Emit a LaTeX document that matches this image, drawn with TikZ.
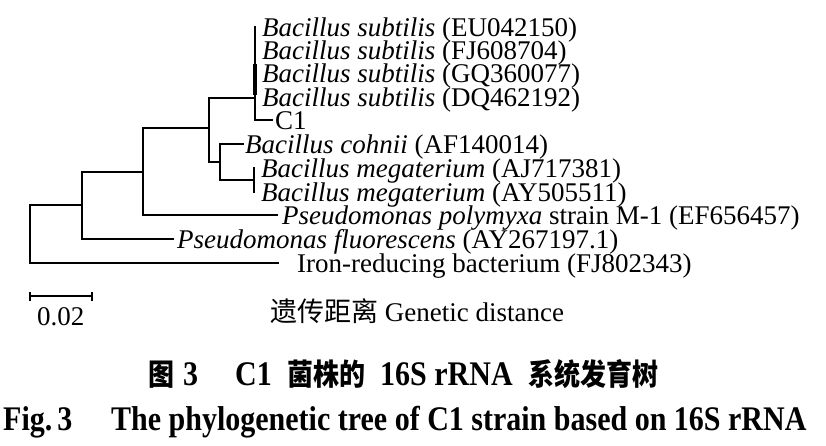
\documentclass[tikz,border=0pt]{standalone}
\usepackage{graphicx}
\usepackage{fontspec}
\setmainfont{Liberation Serif}
\newfontfamily\cjk{Noto Sans CJK SC}
\newcommand{\tallbox}[1]{\scalebox{1}[1.15]{#1}}
\begin{document}
\begin{tikzpicture}[x=1pt,y=-1pt,
  br/.style={line width=2pt, line cap=rect},
  lab/.style={inner sep=0pt, anchor=base west, font=\fontsize{27}{27}\selectfont},
  ttl/.style={inner sep=0pt, anchor=base west, font=\fontsize{30}{30}\selectfont\bfseries},
  ttlc/.style={inner sep=0pt, anchor=base west, font=\fontsize{26}{26}\selectfont\cjk\bfseries}]
\useasboundingbox (0,0) rectangle (826,445);
% internal nodes
\coordinate (nR) at (30,234);
\coordinate (n2) at (82,205);
\coordinate (n3) at (143,172);
\coordinate (n4) at (209,128);
\coordinate (n5) at (220,162);
\coordinate (nS) at (255,98);
\coordinate (nM) at (254,180);
% tips
\coordinate (tEU) at (255,27);
\coordinate (tFJ) at (255,50);
\coordinate (tGQ) at (255,73);
\coordinate (tDQ) at (255,97);
\coordinate (tC1) at (272,120);
\coordinate (tCoh) at (243,144);
\coordinate (tM1) at (254,168);
\coordinate (tM2) at (254,192);
\coordinate (tPoly) at (277,215);
\coordinate (tFl) at (173,239);
\coordinate (tIron) at (278,263);
\coordinate (thA) at (255,64);
\coordinate (thB) at (255,95);
% branches
\draw[br] (nR) |- (n2);
\draw[br] (nR) |- (tIron);
\draw[br] (n2) |- (n3);
\draw[br] (n2) |- (tFl);
\draw[br] (n3) |- (n4);
\draw[br] (n3) |- (tPoly);
\draw[br] (n4) |- (nS);
\draw[br] (n4) |- (n5);
\draw[br] (n5) |- (tCoh);
\draw[br] (n5) |- (nM);
\draw[br] (nM) -- (tM1);
\draw[br] (nM) -- (tM2);
\draw[br] (nS) -- (tEU);
\draw[br] (nS) |- (tC1);
\draw[line width=3.6pt] (thA) -- (thB);
% labels
\node[lab] (lEU) at (262,36) {\textit{Bacillus subtilis} (EU042150)};
\node[lab] (lFJ) at (262,59) {\textit{Bacillus subtilis} (FJ608704)};
\node[lab] (lGQ) at (262,82) {\textit{Bacillus subtilis} (GQ360077)};
\node[lab] (lDQ) at (262,106) {\textit{Bacillus subtilis} (DQ462192)};
\node[lab] (lC1) at (275,129) {C1};
\node[lab] (lCoh) at (245,153) {\textit{Bacillus cohnii} (AF140014)};
\node[lab] (lM1) at (261,177) {\textit{Bacillus megaterium} (AJ717381)};
\node[lab] (lM2) at (261,201) {\textit{Bacillus megaterium} (AY505511)};
\node[lab] (lPoly) at (282,224) {\textit{Pseudomonas polymyxa} strain M-1 (EF656457)};
\node[lab] (lFl) at (177,248) {\textit{Pseudomonas fluorescens} (AY267197.1)};
\node[lab] (lIron) at (297,272) {Iron-reducing bacterium (FJ802343)};
% scale bar
\coordinate (sb1) at (30,296);
\coordinate (sb2) at (92,296);
\coordinate (sb1t) at (30,292);
\coordinate (sb1b) at (30,301);
\coordinate (sb2t) at (92,292);
\coordinate (sb2b) at (92,301);
\draw[line width=1.8pt] (sb1) -- (sb2);
\draw[line width=1.6pt] (sb1t) -- (sb1b);
\draw[line width=1.6pt] (sb2t) -- (sb2b);
\node[lab] (sbl) at (37,325) {0.02};
\node[lab] (gd) at (270,321) {{\cjk 遗传距离} Genetic distance};
% title
\node[ttlc] (t1) at (148,385) {\tallbox{图}};
\node[ttl] (t2) at (183,385) {\tallbox{3}};
\node[ttl] (t3) at (235,385) {\tallbox{C1}};
\node[ttlc] (t4) at (287,385) {\tallbox{菌株的}};
\node[ttl] (t5) at (380,385) {\tallbox{16S rRNA}};
\node[ttlc] (t6) at (528,385) {\tallbox{系统发育树}};
\node[ttl] (f1) at (3,430) {\tallbox{Fig.\,3}};
\node[ttl] (f2) at (111,430) {\tallbox{The phylogenetic tree of C1 strain based on 16S rRNA}};
\end{tikzpicture}
\end{document}
